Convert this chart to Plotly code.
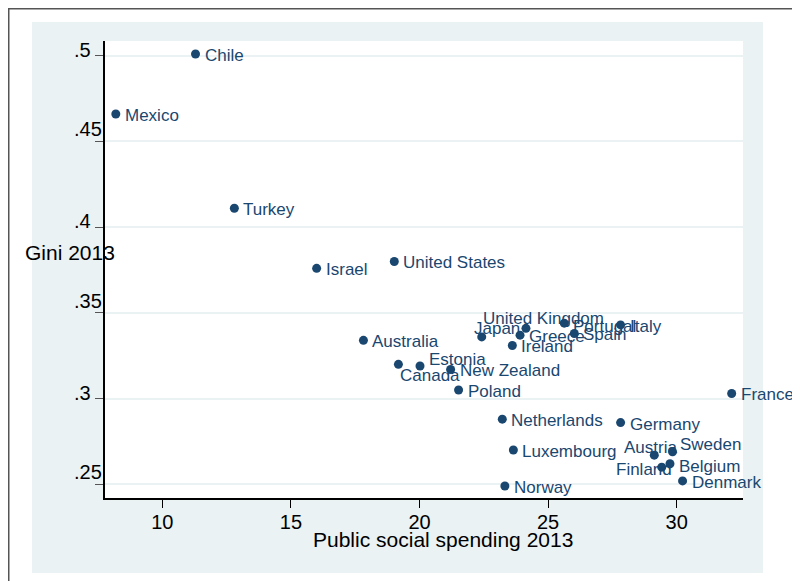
import plotly.graph_objects as go

# ---- data ----
countries = ["Chile", "Mexico", "Turkey", "Israel", "United States", "Australia",
             "Canada", "Estonia", "New Zealand", "Poland", "United Kingdom", "Japan",
             "Greece", "Ireland", "Portugal", "Spain", "Italy", "France",
             "Netherlands", "Germany", "Luxembourg", "Austria", "Sweden",
             "Finland", "Belgium", "Denmark", "Norway"]
spending = [11.29, 8.19, 12.80, 16.00, 19.02, 17.82,
            19.18, 20.02, 21.21, 21.52, 22.42, 24.14,
            23.91, 23.61, 25.63, 26.02, 27.82, 32.14,
            23.22, 27.82, 23.65, 29.13, 29.84,
            29.42, 29.74, 30.23, 23.32]
gini = [0.501, 0.466, 0.411, 0.376, 0.380, 0.334,
        0.320, 0.319, 0.317, 0.305, 0.336, 0.341,
        0.337, 0.331, 0.344, 0.338, 0.343, 0.303,
        0.288, 0.286, 0.270, 0.267, 0.269,
        0.260, 0.262, 0.252, 0.249]

x_ticks = [10, 15, 20, 25, 30]
y_ticks = [0.25, 0.30, 0.35, 0.40, 0.45, 0.50]
y_tick_labels = [".25", ".3", ".35", ".4", ".45", ".5"]

x_title = "Public social spending 2013"
y_title = "Gini 2013"

# ---- style ----
NAVY = "#1a476f"
BG = "#eaf2f3"
FONT = "Liberation Sans, Arial, sans-serif"
OFF = 8  # page body margin
W, H = 800 - OFF, 581 - OFF
L, R, T, B = 105 - OFF, 57, 41 - OFF, 83
PW, PH = W - L - R, H - T - B


def px_x(p):
    """page pixel x -> paper coordinate"""
    return (p - OFF - L) / PW


def px_y(p):
    """page pixel y -> paper coordinate"""
    return (H - B - (p - OFF)) / PH


# label placement: (xanchor, xshift, yshift) in pixels; default is right of marker
label_pos = {
    "United Kingdom": ("left", -1, 18),
    "Japan": ("right", -4, 0),
    "Canada": ("left", 0, -11),
    "Estonia": ("left", 7, 7),
    "Finland": ("right", 12, -2),
    "Belgium": ("left", 7, -2.5),
    "Austria": ("center", -4, 8),
    "Sweden": ("left", 5, 7),
    "Portugal": ("left", 7, -3),
}
default_pos = ("left", 7, -1.5)

fig = go.Figure()
fig.add_trace(go.Scatter(
    x=spending, y=gini, mode="markers",
    marker=dict(size=9, color=NAVY, line=dict(width=0)),
    hoverinfo="text", text=countries, showlegend=False,
))

annotations = []
for c, xv, yv in zip(countries, spending, gini):
    anc, xs, ys = label_pos.get(c, default_pos)
    annotations.append(dict(
        x=xv, y=yv, xref="x", yref="y", text=c, showarrow=False,
        xanchor=anc, yanchor="middle", xshift=xs, yshift=ys,
        font=dict(family=FONT, size=17, color=NAVY),
    ))

# y tick labels (left aligned as in the reference)
for v, t in zip(y_ticks, y_tick_labels):
    annotations.append(dict(
        x=px_x(72), y=v, xref="paper", yref="y", text=t, showarrow=False,
        xanchor="left", yanchor="middle", yshift=12 if len(t) > 2 else 6,
        font=dict(family=FONT, size=20, color="black"),
    ))

annotations.append(dict(
    x=px_x(23), y=px_y(252), xref="paper", yref="paper", text=y_title,
    showarrow=False, xanchor="left", yanchor="middle",
    font=dict(family=FONT, size=21, color="black"),
))
annotations.append(dict(
    x=px_x(442.5), y=px_y(539), xref="paper", yref="paper", text=x_title,
    showarrow=False, xanchor="center", yanchor="middle",
    font=dict(family=FONT, size=21, color="black"),
))

shapes = [
    # outer frame (extends beyond the image)
    dict(type="rect", xref="paper", yref="paper", layer="below",
         x0=px_x(OFF + 0.75), x1=px_x(830), y0=px_y(610), y1=px_y(OFF + 0.75),
         line=dict(color="#555555", width=1.5), fillcolor="white"),
    # light blue graph region
    dict(type="rect", xref="paper", yref="paper", layer="below",
         x0=px_x(32), x1=px_x(763), y0=px_y(573), y1=px_y(22),
         line=dict(width=0), fillcolor=BG),
    # white plot region
    dict(type="rect", xref="paper", yref="paper", layer="below",
         x0=0, x1=1, y0=0, y1=1, line=dict(width=0), fillcolor="white"),
]

fig.update_layout(
    width=W, height=H,
    margin=dict(l=L, r=R, t=T, b=B),
    paper_bgcolor="white", plot_bgcolor="rgba(0,0,0,0)",
    font=dict(family=FONT, color="black"),
    annotations=annotations, shapes=shapes,
    showlegend=False,
)

fig.update_xaxes(
    range=[7.77, 32.58], tickvals=x_ticks, ticktext=[str(v) for v in x_ticks],
    ticks="outside", ticklen=8, tickcolor="black", tickwidth=1,
    showline=True, linecolor="black", linewidth=1.5,
    showgrid=False, zeroline=False,
    tickfont=dict(family=FONT, size=20, color="black"),
    ticklabelstandoff=-3,
)
fig.update_yaxes(
    range=[0.24203, 0.50858], tickvals=y_ticks, showticklabels=False,
    ticks="outside", ticklen=8, tickcolor="#555555", tickwidth=1.2,
    showline=True, linecolor="black", linewidth=1.5,
    showgrid=True, gridcolor=BG, gridwidth=2, zeroline=False,
)

fig.write_html("out.html")
